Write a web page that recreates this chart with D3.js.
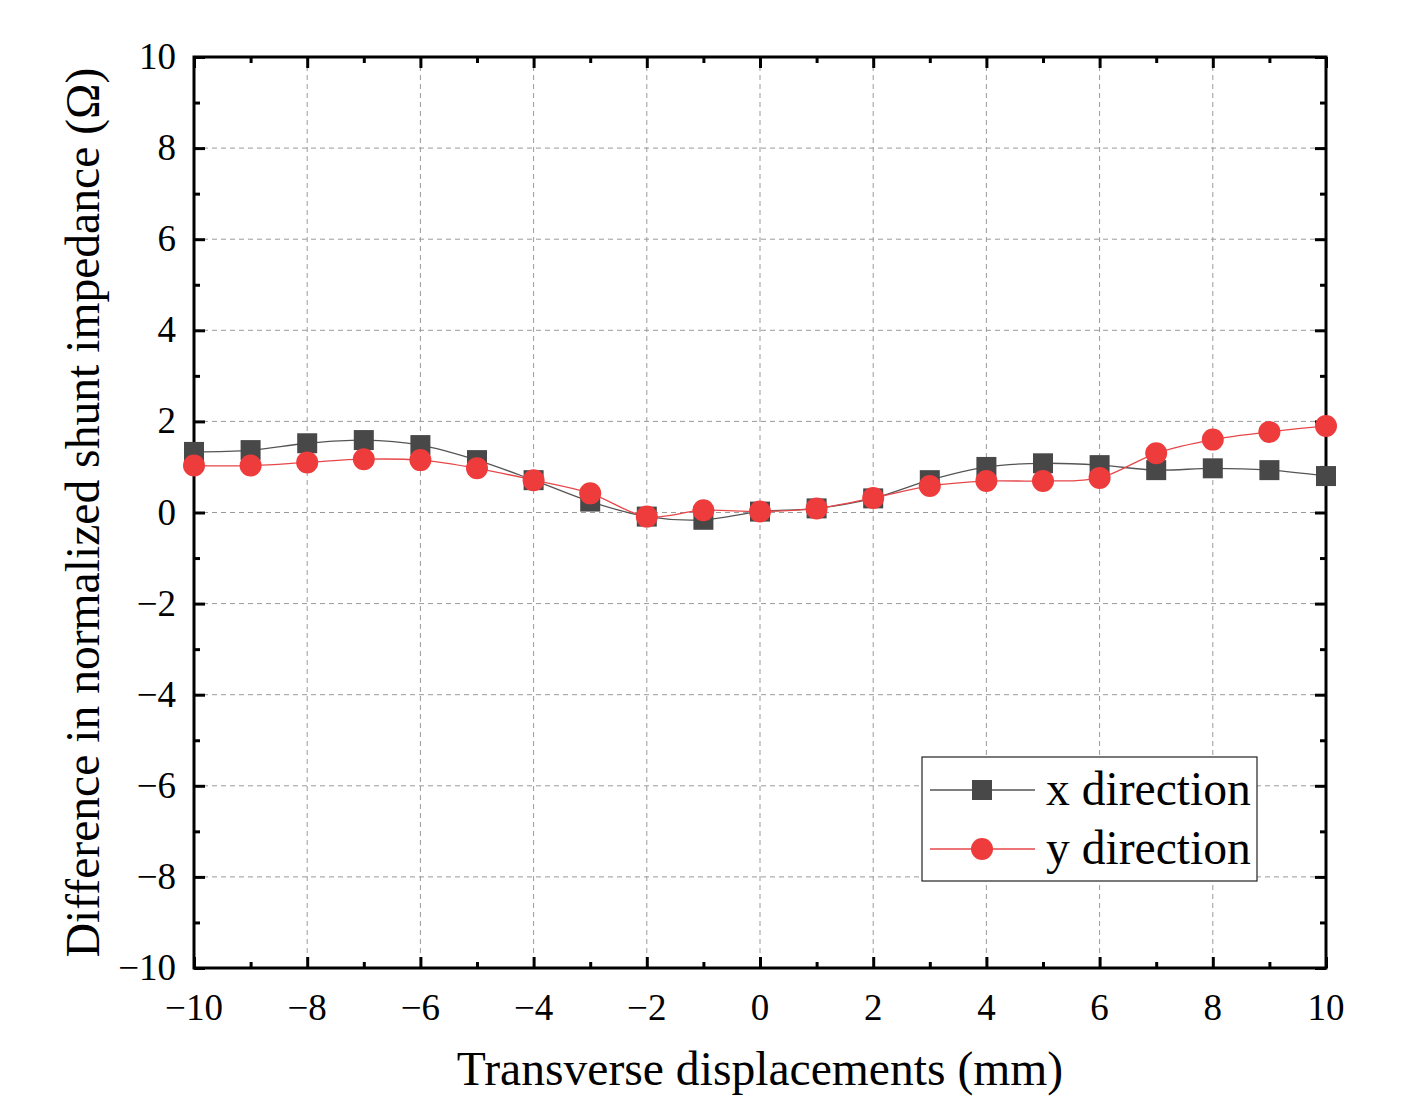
<!DOCTYPE html>
<html>
<head>
<meta charset="utf-8">
<script src="https://cdn.jsdelivr.net/npm/d3@7"></script>
<style>
  body { margin: 0; background: #fff; }
  svg text { font-family: "Liberation Serif", "Times New Roman", serif; fill: #000; }
</style>
</head>
<body>
<div class="chart"></div>
<script>
;(function () {
  var xs = [-10, -9, -8, -7, -6, -5, -4, -3, -2, -1, 0, 1, 2, 3, 4, 5, 6, 7, 8, 9, 10]
  var xDirection = [1.33, 1.37, 1.52, 1.59, 1.48, 1.15, 0.71, 0.24, -0.09, -0.16, 0.02, 0.09, 0.31, 0.71, 1.0, 1.08, 1.04, 0.93, 0.97, 0.93, 0.80]
  var yDirection = [1.03, 1.03, 1.10, 1.17, 1.15, 0.97, 0.71, 0.42, -0.09, 0.05, 0.02, 0.09, 0.32, 0.58, 0.69, 0.69, 0.76, 1.30, 1.60, 1.77, 1.90]
  var xTicks = [-10, -8, -6, -4, -2, 0, 2, 4, 6, 8, 10]
  var yTicks = [-10, -8, -6, -4, -2, 0, 2, 4, 6, 8, 10]
  var seriesNames = ['x direction', 'y direction']

  var W = 1406, H = 1097
  var L = 194, R = 1326, T = 57, B = 968

  var svg = d3.select('.chart').append('svg')
    .attr('width', W)
    .attr('height', H)

  var x = d3.scaleLinear().domain([-10, 10]).range([L, R])
  var y = d3.scaleLinear().domain([-10, 10]).range([B, T])
  var fmt = function (d) { return d < 0 ? '\u2212' + Math.abs(d) : String(d) }

  // grid
  var grid = svg.append('g').attr('stroke', '#9a9a9a').attr('stroke-width', 1).attr('stroke-dasharray', '5,4')
  grid.selectAll('.gx').data(xTicks.slice(1, -1)).enter().append('line')
    .attr('x1', x).attr('x2', x).attr('y1', T).attr('y2', B)
  grid.selectAll('.gy').data(yTicks.slice(1, -1)).enter().append('line')
    .attr('y1', y).attr('y2', y).attr('x1', L).attr('x2', R)

  // axes with inward ticks on all sides
  var minor = d3.range(-9, 10, 2)
  function ticks (axis, scale, pos, vals, len) {
    var g = svg.append('g').attr('transform', pos)
    g.call(axis(scale).tickValues(vals).tickSize(-len).tickFormat(''))
    g.select('.domain').remove()
    g.selectAll('line').attr('stroke', '#000').attr('stroke-width', 3)
  }
  ticks(d3.axisBottom, x, 'translate(0,' + B + ')', xTicks, 11)
  ticks(d3.axisBottom, x, 'translate(0,' + B + ')', minor, 6)
  ticks(d3.axisTop, x, 'translate(0,' + T + ')', xTicks, 11)
  ticks(d3.axisTop, x, 'translate(0,' + T + ')', minor, 6)
  ticks(d3.axisLeft, y, 'translate(' + L + ',0)', yTicks, 11)
  ticks(d3.axisLeft, y, 'translate(' + L + ',0)', minor, 6)
  ticks(d3.axisRight, y, 'translate(' + R + ',0)', yTicks, 11)
  ticks(d3.axisRight, y, 'translate(' + R + ',0)', minor, 6)

  svg.append('rect')
    .attr('x', L).attr('y', T).attr('width', R - L).attr('height', B - T)
    .attr('fill', 'none').attr('stroke', '#000').attr('stroke-width', 3)

  // tick labels
  svg.selectAll('.xl').data(xTicks).enter().append('text')
    .attr('x', x).attr('y', B + 52)
    .attr('text-anchor', 'middle').attr('font-size', 37)
    .text(fmt)
  svg.selectAll('.yl').data(yTicks).enter().append('text')
    .attr('x', L - 18).attr('y', function (d) { return y(d) + 12 })
    .attr('text-anchor', 'end').attr('font-size', 37)
    .text(fmt)

  // axis titles
  svg.append('text')
    .attr('x', (L + R) / 2).attr('y', 1085)
    .attr('text-anchor', 'middle').attr('font-size', 47.6)
    .text('Transverse displacements (mm)')
  svg.append('text')
    .attr('transform', 'translate(99,' + ((T + B) / 2) + ') rotate(-90)')
    .attr('text-anchor', 'middle').attr('font-size', 47.6)
    .text('Difference in normalized shunt impedance (\u03A9)')

  // series
  var colors = { line: ['#555555', '#e8474a'], mark: ['#484848', '#ee3b3b'] }
  var line = d3.line()
    .x(function (d) { return x(d[0]) })
    .y(function (d) { return y(d[1]) })
    .curve(d3.curveCatmullRom)

  var xData = xs.map(function (v, i) { return [v, xDirection[i]] })
  var yData = xs.map(function (v, i) { return [v, yDirection[i]] })

  var plot = svg.append('g')
  plot.append('path').datum(xData).attr('d', line)
    .attr('fill', 'none').attr('stroke', colors.line[0]).attr('stroke-width', 1.3)
  plot.selectAll('.sq').data(xData).enter().append('rect')
    .attr('x', function (d) { return x(d[0]) - 10 })
    .attr('y', function (d) { return y(d[1]) - 10 })
    .attr('width', 20).attr('height', 20)
    .attr('fill', colors.mark[0])

  plot.append('path').datum(yData).attr('d', line)
    .attr('fill', 'none').attr('stroke', colors.line[1]).attr('stroke-width', 1.3)
  plot.selectAll('.ci').data(yData).enter().append('circle')
    .attr('cx', function (d) { return x(d[0]) })
    .attr('cy', function (d) { return y(d[1]) })
    .attr('r', 11)
    .attr('fill', colors.mark[1])

  // legend
  var lg = svg.append('g')
  lg.append('rect')
    .attr('x', 922).attr('y', 757).attr('width', 335).attr('height', 124)
    .attr('fill', '#fff').attr('stroke', '#222').attr('stroke-width', 1.2)
  seriesNames.forEach(function (name, i) {
    var cy = 790 + i * 59
    lg.append('line')
      .attr('x1', 930).attr('x2', 1035).attr('y1', cy).attr('y2', cy)
      .attr('stroke', colors.line[i]).attr('stroke-width', 1.3)
    if (i === 0) {
      lg.append('rect').attr('x', 972).attr('y', cy - 10).attr('width', 20).attr('height', 20)
        .attr('fill', colors.mark[0])
    } else {
      lg.append('circle').attr('cx', 982).attr('cy', cy).attr('r', 11).attr('fill', colors.mark[1])
    }
    lg.append('text')
      .attr('x', 1046).attr('y', cy + 15)
      .attr('font-size', 47.6)
      .text(name)
  })
})()
</script>
</body>
</html>
